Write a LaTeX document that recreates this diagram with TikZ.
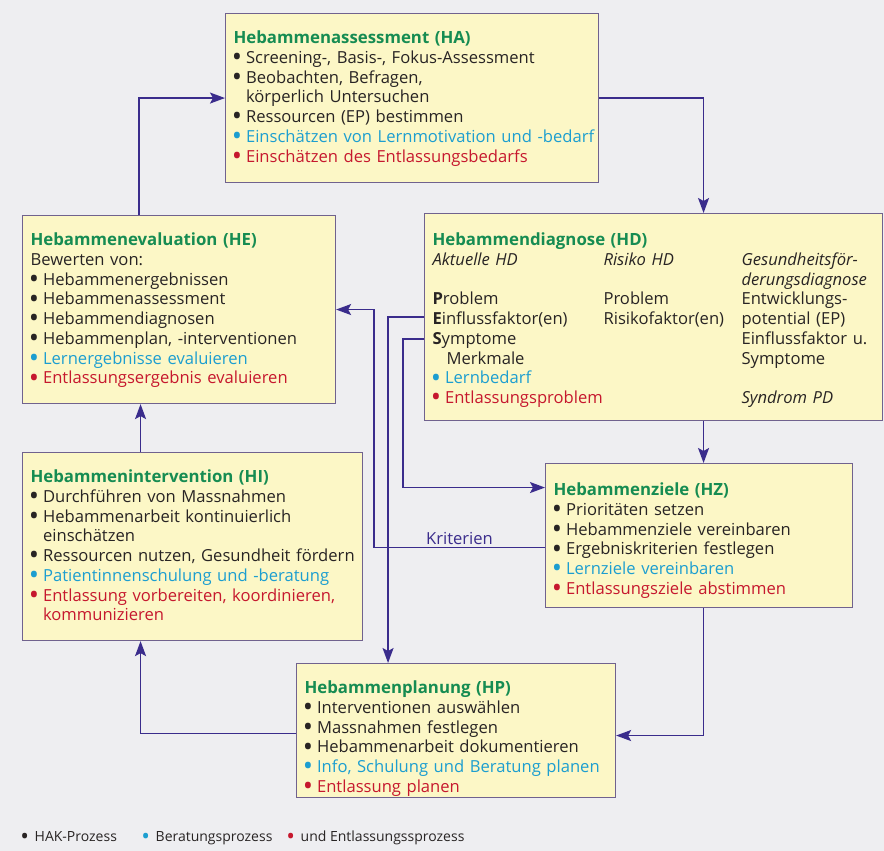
\documentclass[tikz,border=0pt]{standalone}
\usepackage{fontspec}
\setmainfont{Open Sans}
\usetikzlibrary{arrows.meta}

\definecolor{bgcol}{RGB}{238,238,241}
\definecolor{boxfill}{RGB}{252,247,198}
\definecolor{boxline}{RGB}{112,98,142}
\definecolor{flowcol}{RGB}{58,44,140}
\definecolor{titlecol}{RGB}{22,140,82}
\definecolor{textcol}{RGB}{40,36,36}
\definecolor{lerncol}{RGB}{28,158,208}
\definecolor{entlcol}{RGB}{198,24,46}

\newcommand{\dotb}{\makebox[12.5pt][l]{\hspace{-1.8pt}\raisebox{-0.2em}{\scalebox{1.65}{\textbullet}}}}
\newcommand{\hbul}{\dotb}
\newcommand{\lbul}[1]{\textcolor{lerncol}{\dotb#1}}
\newcommand{\ebul}[1]{\textcolor{entlcol}{\dotb#1}}
\newcommand{\btitle}[1]{\textcolor{titlecol}{\fontsize{16.8}{19.7}\selectfont\bfseries\strut #1}}
\newcommand{\ind}{\hspace*{12.5pt}}
\newcommand{\boxtext}[2]{\parbox[c][#1][t]{\linewidth}{\raggedright #2}}

\begin{document}
\begin{tikzpicture}[x=1pt,y=-1pt,
  box/.style={draw=boxline, fill=boxfill, line width=1.1pt, anchor=north west,
    inner xsep=8pt, inner ysep=0pt, text=textcol,
    font=\fontsize{16.6}{19.7}\selectfont},
  flow/.style={draw=flowcol, line width=1.6pt,
    -{Stealth[length=15pt,width=11pt,inset=3pt]}},
  legend/.style={anchor=west, text=textcol, inner sep=0pt,
    font=\fontsize{14}{16}\selectfont}]
\fill[bgcol] (0,0) rectangle (884,851);
\useasboundingbox (0,0) rectangle (884,851);

% boxes
\node[box, minimum width=373pt, minimum height=169pt, text width=357pt] (ha) at (225,13) {%
\boxtext{136pt}{\btitle{Hebammenassessment (HA)}\\
\hbul Screening-, Basis-, Fokus-Assessment\\
\hbul Beobachten, Befragen,\\
\ind körperlich Untersuchen\\
\hbul Ressourcen (EP) bestimmen\\
\mbox{\lbul{Einschätzen von Lernmotivation und -bedarf}}\\
\ebul{Einschätzen des Entlassungsbedarfs}}};

\node[box, minimum width=458pt, minimum height=207pt, text width=442pt] (hd) at (424,213) {%
\boxtext{170pt}{\btitle{Hebammendiagnose (HD)}\\
\begin{tabular}[t]{@{}p{163pt}@{\hspace{8pt}}p{130pt}@{\hspace{8pt}}l@{}}
\textit{Aktuelle HD} & \textit{Risiko HD} & \textit{Gesundheitsför-}\\
 & & \textit{derungsdiagnose}\\
\textbf{P}roblem & Problem & Entwicklungs-\\
\textbf{E}influssfaktor(en) & Risikofaktor(en) & potential (EP)\\
\textbf{S}ymptome & & Einflussfaktor u.\\
\hspace{14pt}Merkmale & & Symptome\\
\multicolumn{2}{@{}l}{\lbul{Lernbedarf}} & \\
\multicolumn{2}{@{}l}{\ebul{Entlassungsproblem}} & \textit{Syndrom PD}
\end{tabular}}};

\node[box, minimum width=313pt, minimum height=188pt, text width=297pt] (he) at (22,215) {%
\boxtext{155pt}{\btitle{Hebammenevaluation (HE)}\\
Bewerten von:\\
\hbul Hebammenergebnissen\\
\hbul Hebammenassessment\\
\hbul Hebammendiagnosen\\
\hbul Hebammenplan, -interventionen\\
\lbul{Lernergebnisse evaluieren}\\
\ebul{Entlassungsergebnis evaluieren}}};

\node[box, minimum width=340pt, minimum height=188pt, text width=324pt] (hi) at (22,452) {%
\boxtext{155pt}{\btitle{Hebammenintervention (HI)}\\
\hbul Durchführen von Massnahmen\\
\hbul Hebammenarbeit kontinuierlich\\
\ind einschätzen\\
\mbox{\hbul Ressourcen nutzen, Gesundheit fördern}\\
\lbul{Patientinnenschulung und -beratung}\\
\ebul{Entlassung vorbereiten, koordinieren,}\\
\textcolor{entlcol}{\ind kommunizieren}}};

\node[box, minimum width=307pt, minimum height=144pt, text width=291pt] (hz) at (545,463) {%
\boxtext{107pt}{\btitle{Hebammenziele (HZ)}\\
\hbul Prioritäten setzen\\
\hbul Hebammenziele vereinbaren\\
\hbul Ergebniskriterien festlegen\\
\lbul{Lernziele vereinbaren}\\
\ebul{Entlassungsziele abstimmen}}};

\node[box, minimum width=319pt, minimum height=134pt, text width=303pt] (hp) at (296,663) {%
\boxtext{101pt}{\btitle{Hebammenplanung (HP)}\\
\hbul Interventionen auswählen\\
\hbul Massnahmen festlegen\\
\hbul Hebammenarbeit dokumentieren\\
\lbul{Info, Schulung und Beratung planen}\\
\ebul{Entlassung planen}}};

% connectors
\draw[flow] (ha.east) -| ([xshift=50pt]hd.north);
\draw[flow] ([xshift=-40pt]he.north) |- (ha.west);
\draw[flow] ([xshift=50pt]hd.south) -- ([xshift=4.5pt]hz.north);
\draw[flow] ([xshift=4.5pt]hz.south) |- ([yshift=-5pt]hp.east);
\draw[flow] ([yshift=-3pt]hp.west) -| ([xshift=-52pt]hi.south);
\draw[flow] ([xshift=-52pt]hi.north) -- ([xshift=-38.5pt]he.south);
\draw[flow] ([yshift=-12pt]hz.west) -- ++(-171,0)
  node[pos=0.5, above, inner sep=2pt, text=flowcol,
    font=\fontsize{16.6}{19}\selectfont] (krit) {Kriterien}
  |- (he.east);
\draw[flow] (hd.west) -| ([xshift=-68pt]hp.north);
\draw[flow] ([yshift=-22pt]hd.west) -- ++(-21,0) |- ([yshift=48pt]hz.west);

% legend
\node[legend] (lg1) at (22,838) {\hbul HAK-Prozess};
\node[legend] (lg2) at (143,838) {\lbul{\textcolor{textcol}{Beratungsprozess}}};
\node[legend] (lg3) at (288,838) {\ebul{\textcolor{textcol}{und Entlassungssprozess}}};
\end{tikzpicture}
\end{document}
